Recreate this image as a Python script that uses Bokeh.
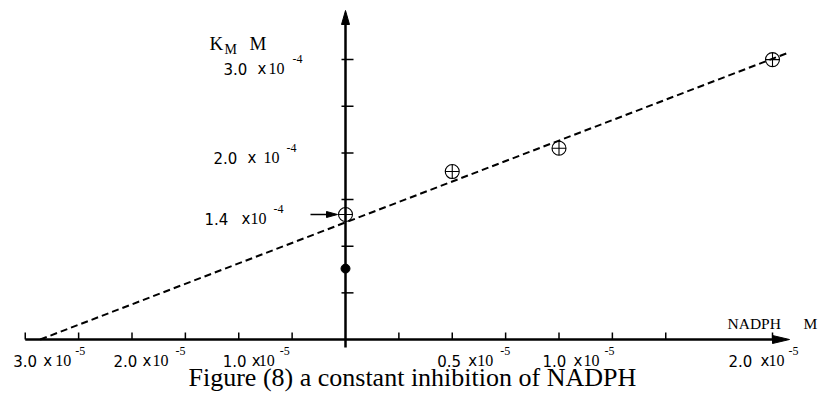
from bokeh.plotting import figure
from bokeh.models import Range1d
from bokeh.core.properties import value
from bokeh.embed import file_html
from bokeh.resources import INLINE

# ---- data: x in units of 1e-5 M NADPH, y in units of 1e-4 M (K_M) ----
point_x = [0.0, 0.5, 1.0, 2.0]
point_y = [1.34, 1.80, 2.05, 3.00]
filled_x = [0.0]
filled_y = [0.76]
fit_x = [-1.43, 2.075]
fit_y = [0.0, 3.075]
x_ticks = [-1.5, -1.25, -1.0, -0.75, -0.5, -0.25, 0.25, 0.5, 0.75, 1.0, 1.25, 1.5, 2.0]
y_ticks = [0.5, 1.0, 1.5, 2.0, 2.5, 3.0]
x_label_values = [-1.5, -1.0, -0.5, 0.5, 1.0, 2.0]
x_label_text = ["3.0", "2.0", "1.0", "0.5", "1.0", "2.0"]
x_label_exp = "-5"
y_label_values = [3.0, 2.0, 1.4]
y_label_text = ["3.0", "2.0", "1.4"]
y_label_exp = "-4"
caption = "Figure (8) a constant inhibition of NADPH"

# ---- layout (pixel geometry of the page) ----
W, H = 819, 394
X0, SX = 345.0, 213.5   # px of x=0, px per unit
Y0, SY = 339.0, 93.3    # px (from top) of y=0, px per unit


def px2x(px):
    return (px - X0) / SX


def py2y(py):
    return (Y0 - py) / SY


SANS = value("DejaVu Sans")
SERIF = value("Liberation Serif")

p = figure(width=W, height=H, x_range=Range1d(px2x(0), px2x(W)),
           y_range=Range1d(py2y(H), py2y(0)), min_border=0,
           toolbar_location=None, output_backend="svg",
           x_axis_location=None, y_axis_location=None,
           outline_line_color=None, background_fill_color="white",
           border_fill_color="white")
p.grid.visible = False

# axes lines
p.segment(x0=[x_ticks[0], 0], x1=[px2x(776), 0], y0=[0, py2y(347)],
          y1=[0, py2y(20)], line_color="black", line_width=2.5)
# arrow heads
p.patch([px2x(789), px2x(772), px2x(772)], [0, py2y(Y0 - 4), py2y(Y0 + 4)],
        fill_color="black", line_color="black", line_width=1)
p.patch([0, px2x(X0 - 4), px2x(X0 + 4)], [py2y(10), py2y(24), py2y(24)],
        fill_color="black", line_color="black", line_width=1)

# ticks
p.segment(x0=x_ticks, x1=x_ticks, y0=[0] * len(x_ticks),
          y1=[py2y(Y0 - 7)] * len(x_ticks), line_color="black", line_width=1.5)
p.segment(x0=[px2x(X0 - 4)] * len(y_ticks), x1=[px2x(X0 + 8)] * len(y_ticks),
          y0=y_ticks, y1=y_ticks, line_color="black", line_width=1.5)

# fitted dashed line
p.line(fit_x, fit_y, line_color="black", line_width=2.0, line_dash="7 4")

# data points
p.scatter(point_x, point_y, marker="circle_cross", size=14, line_color="black",
          fill_color=None, line_width=1.1)
p.scatter(filled_x, filled_y, marker="circle", size=9, line_color="black",
          fill_color="black")

# arrow pointing at intercept
p.segment(x0=[px2x(310)], x1=[px2x(328)], y0=[py2y(214)], y1=[py2y(214)],
          line_color="black", line_width=1.5)
p.patch([px2x(337), px2x(326), px2x(326)], [py2y(214), py2y(211), py2y(217)],
        fill_color="black", line_color="black", line_width=1)

# x tick labels
x_num_dx = [-12, -18.5, -16, -15, -16.5, -44]
x_x_dx = [18, 10.5, 13, 16, 14.5, -12]
x_ten_dx = [30, 20.5, 20, 25, 24.5, -4]
x_sup_dx = [50, 43.5, 41, 48, 45.5, 16]
n = len(x_label_values)
base = py2y(360)
sup = py2y(350)
p.text(x=[v + d / SX for v, d in zip(x_label_values, x_num_dx)], y=[base] * n,
       text=x_label_text, text_font=SANS, text_font_size="15px",
       text_baseline="alphabetic", text_align="left", text_color="black")
p.text(x=[v + d / SX for v, d in zip(x_label_values, x_x_dx)], y=[base] * n,
       text=["x"] * n, text_font=SANS, text_font_size="15px",
       text_baseline="alphabetic", text_align="left", text_color="black")
p.text(x=[v + d / SX for v, d in zip(x_label_values, x_ten_dx)], y=[base] * n,
       text=["10"] * n, text_font=SERIF, text_font_size="16px",
       text_baseline="alphabetic", text_align="left", text_color="black")
p.text(x=[v + d / SX for v, d in zip(x_label_values, x_sup_dx)], y=[sup] * n,
       text=[x_label_exp] * n, text_font=SERIF, text_font_size="12px",
       text_baseline="alphabetic", text_align="left", text_color="black")

# y tick labels
y_num_px = [223, 213, 204]
y_x_px = [257, 247, 241]
y_ten_px = [268, 263, 250]
y_sup_px = [292, 286, 273]
y_base_py = [68, 157, 218]
m = len(y_label_values)
p.text(x=[px2x(v) for v in y_num_px], y=[py2y(v) for v in y_base_py],
       text=y_label_text, text_font=SANS, text_font_size="15px",
       text_baseline="alphabetic", text_align="left", text_color="black")
p.text(x=[px2x(v) for v in y_x_px], y=[py2y(v) for v in y_base_py],
       text=["x"] * m, text_font=SANS, text_font_size="15px",
       text_baseline="alphabetic", text_align="left", text_color="black")
p.text(x=[px2x(v) for v in y_ten_px], y=[py2y(v) for v in y_base_py],
       text=["10"] * m, text_font=SERIF, text_font_size="16px",
       text_baseline="alphabetic", text_align="left", text_color="black")
p.text(x=[px2x(v) for v in y_sup_px], y=[py2y(v - 10) for v in y_base_py],
       text=[y_label_exp] * m, text_font=SERIF, text_font_size="12px",
       text_baseline="alphabetic", text_align="left", text_color="black")

# axis titles
p.text(x=[px2x(209), px2x(249)], y=[py2y(43), py2y(43)], text=["K", "M"],
       text_font=SERIF, text_font_size="19px", text_baseline="alphabetic",
       text_align="left", text_color="black")
p.text(x=[px2x(224)], y=[py2y(49)], text=["M"], text_font=SERIF,
       text_font_size="14px", text_baseline="alphabetic", text_align="left",
       text_color="black")
p.text(x=[px2x(727), px2x(803)], y=[py2y(323), py2y(323)], text=["NADPH", "M"],
       text_font=SERIF, text_font_size="15.5px", text_baseline="alphabetic",
       text_align="left", text_color="black")

# caption
p.text(x=[px2x(188)], y=[py2y(377)], text=[caption], text_font=SERIF,
       text_font_size="26px", text_baseline="alphabetic", text_align="left",
       text_color="black")

open("out.html", "w").write(file_html(p, INLINE))
